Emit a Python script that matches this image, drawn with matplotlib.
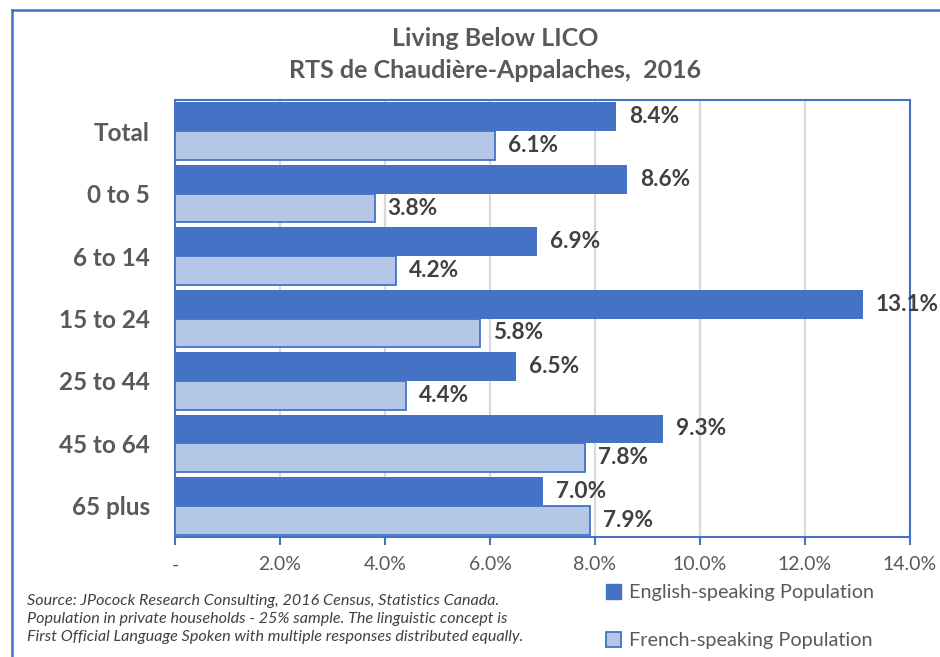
import numpy as np
import matplotlib.pyplot as plt
from matplotlib.lines import Line2D
from matplotlib.patches import Patch

plt.rcParams['font.family'] = ['Lato', 'DejaVu Sans']

# data
groups = ['Total', '0 to 5', '6 to 14', '15 to 24', '25 to 44', '45 to 64', '65 plus']
english = [8.4, 8.6, 6.9, 13.1, 6.5, 9.3, 7.0]
french = [6.1, 3.8, 4.2, 5.8, 4.4, 7.8, 7.9]
xticks = [0, 2, 4, 6, 8, 10, 12, 14]
xtick_labels = ['-', '2.0%', '4.0%', '6.0%', '8.0%', '10.0%', '12.0%', '14.0%']

dark_blue = '#4472C4'
light_blue = '#B4C7E7'
grey = '#595959'
label_grey = '#404040'

W, H = 940, 657
fig = plt.figure(figsize=(W / 100, H / 100), dpi=100)
ax = fig.add_axes([175 / W, 1 - 537 / H, (910 - 175) / W, (537 - 100) / H])

y = np.arange(len(groups))
h = 0.46
ax.barh(y - h / 2, english, height=h, color=dark_blue, zorder=3)
ax.barh(y + h / 2, french, height=h, color=light_blue, edgecolor=dark_blue,
        linewidth=1.3, zorder=3)

for i in range(len(groups)):
    ax.annotate(f'{english[i]:.1f}%', (english[i], y[i] - h / 2), xytext=(9.5, 0),
                textcoords='offset points', va='center', ha='left',
                fontsize=16.3, fontweight='bold', color=label_grey)
    ax.annotate(f'{french[i]:.1f}%', (french[i], y[i] + h / 2), xytext=(9.5, 0),
                textcoords='offset points', va='center', ha='left',
                fontsize=16.3, fontweight='bold', color=label_grey)

ax.set_xlim(0, 14)
ax.set_ylim(len(groups) - 0.5, -0.5)
ax.set_xticks(xticks)
ax.set_xticklabels(xtick_labels, fontsize=14, color=grey)
ax.set_yticks(y)
ax.set_yticklabels(groups, fontsize=17.5, fontweight='bold', color=grey)
ax.tick_params(axis='y', length=0, pad=18)
ax.tick_params(axis='x', length=6, width=1.5, color=dark_blue, pad=8)
ax.grid(axis='x', color='#D9D9D9', linewidth=1.6, zorder=0)
ax.set_axisbelow(True)
for s in ax.spines.values():
    s.set_color(dark_blue)
    s.set_linewidth(1.5)

# titles
fig.text(495 / W, 1 - 38 / H, 'Living Below LICO', ha='center', va='center',
         fontsize=18, fontweight='bold', color=grey)
fig.text(495 / W, 1 - 71 / H, 'RTS de Chaudière-Appalaches,  2016', ha='center',
         va='center', fontsize=18, fontweight='bold', color=grey)

# source note
note = ('Source: JPocock Research Consulting, 2016 Census, Statistics Canada.\n'
        'Population in private households - 25% sample. The linguistic concept is\n'
        'First Official Language Spoken with multiple responses distributed equally.')
fig.text(27 / W, 1 - 594 / H, note, ha='left', va='top', fontsize=11.6,
         style='italic', color=label_grey, linespacing=1.38)

# legend
handles = [Patch(facecolor=dark_blue, edgecolor=dark_blue),
           Patch(facecolor=light_blue, edgecolor=dark_blue, linewidth=1.3)]
fig.legend(handles, ['English-speaking Population', 'French-speaking Population'],
           loc='upper left', bbox_to_anchor=(606 / W, 1 - 584 / H), frameon=False,
           fontsize=14.3, labelcolor=grey, handlelength=0.75, handleheight=0.75,
           handletextpad=0.4, labelspacing=1.55, borderaxespad=0, borderpad=0)

# outer chart frame (only top and left edges are visible)
fig.add_artist(Line2D([12 / W, 1], [1 - 10 / H, 1 - 10 / H], color=dark_blue, lw=1.8))
fig.add_artist(Line2D([12 / W, 12 / W], [0, 1 - 10 / H], color=dark_blue, lw=1.8))

fig.savefig('out.png', dpi=100)
